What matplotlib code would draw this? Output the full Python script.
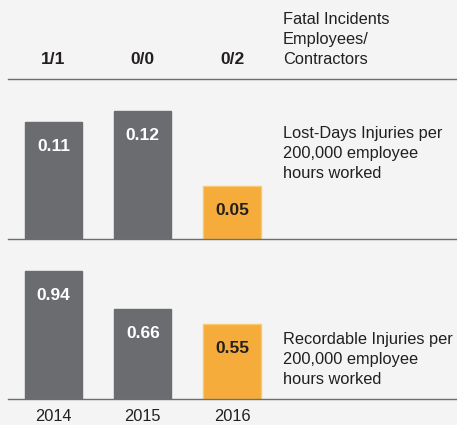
import matplotlib.pyplot as plt

plt.rcParams['font.family'] = ['Liberation Sans', 'DejaVu Sans']

# data
years = ['2014', '2015', '2016']
fatal = ['1/1', '0/0', '0/2']
lost_days = [0.11, 0.12, 0.05]
recordable = [0.94, 0.66, 0.55]

fatal_label = 'Fatal Incidents\nEmployees/\nContractors'
lost_label = 'Lost-Days Injuries per\n200,000 employee\nhours worked'
rec_label = 'Recordable Injuries per\n200,000 employee\nhours worked'

bg = '#f3f4f3'
grey = '#6b6c70'
orange = '#f5ac3b'
line_col = '#6d6e70'
txt = '#231f20'

W, H = 457, 425
fig = plt.figure(figsize=(W / 100, H / 100), dpi=100, facecolor=bg)


def px_axes(left, top, right, bottom):
    # axes placed in pixel coords measured from top-left
    return fig.add_axes([left / W, 1 - bottom / H, (right - left) / W, (bottom - top) / H])


x = range(len(years))
xlim = (-0.51, 4.52)
bar_w = 0.64
cols = [grey, grey, orange]
edges = [grey, grey, '#f9c76f']
lab_cols = ['white', 'white', txt]
side_fs = 11.8
bold_fs = 12.5
ls = 1.42


def style(ax):
    ax.set_facecolor(bg)
    ax.set_xlim(*xlim)
    for s in ['top', 'right', 'left']:
        ax.spines[s].set_visible(False)
    ax.spines['bottom'].set_color(line_col)
    ax.spines['bottom'].set_linewidth(1.0)
    ax.set_yticks([])
    ax.tick_params(axis='x', length=0)


# top strip: fatal incidents
ax0 = px_axes(8, 0, W, 79)
style(ax0)
ax0.set_ylim(79, 0)
ax0.set_xticks([])
for i, f in enumerate(fatal):
    ax0.text(i, 64, f, ha='center', va='baseline', fontsize=bold_fs,
             fontweight='bold', color=txt)
# multiline baseline -> last line sits on y
ax0.text(2.57, 64, fatal_label, ha='left', va='baseline', fontsize=side_fs,
         color=txt, linespacing=ls)


def panel(ax, vals, top, label, label_y):
    style(ax)
    ax.set_ylim(0, top)
    bars = ax.bar(x, vals, width=bar_w, color=cols, edgecolor=edges, linewidth=1)
    for b, v, c in zip(bars, vals, lab_cols):
        ax.annotate(f'{v:.2f}', (b.get_x() + b.get_width() / 2, v),
                    xytext=(0, -29), textcoords='offset pixels',
                    ha='center', va='baseline', fontsize=bold_fs,
                    fontweight='bold', color=c)
    ax.text(2.57, label_y, label, transform=ax.get_xaxis_transform(),
            ha='left', va='baseline', fontsize=side_fs, color=txt, linespacing=ls)


ax1 = px_axes(8, 90, W, 239)
panel(ax1, lost_days, 149 / 1067, lost_label, (239 - 178) / 149)
ax1.set_xticks([])

ax2 = px_axes(8, 250, W, 399)
panel(ax2, recordable, 149 / 136, rec_label, (399 - 384) / 149)
ax2.set_xticks(list(x))
ax2.set_xticklabels(years, fontsize=11.8, color=txt)
ax2.tick_params(axis='x', pad=7.3)

fig.savefig('out.png', dpi=100, facecolor=bg)
